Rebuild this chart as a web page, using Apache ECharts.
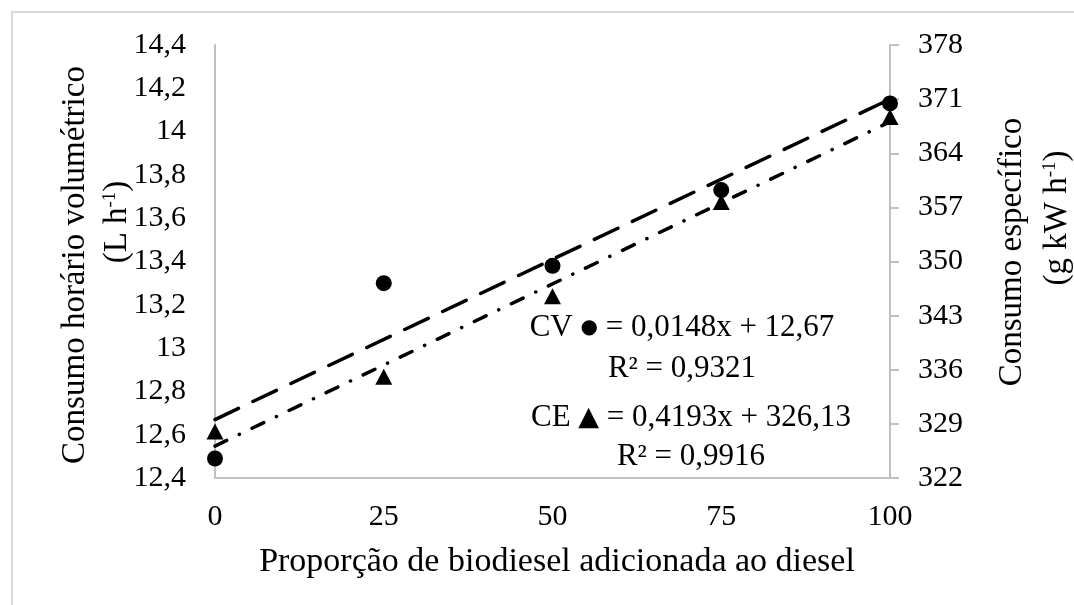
<!DOCTYPE html>
<html>
<head>
<meta charset="utf-8">
<script src="https://cdn.jsdelivr.net/npm/echarts@6/dist/echarts.min.js"></script>
<style>
  html, body { margin: 0; padding: 0; background: #ffffff; }
  #chart { width: 1074px; height: 605px; }
</style>
</head>
<body>
<div id="chart"></div>
<script>
// ---- data ----
const xValues = [0, 25, 50, 75, 100];
const cvValues = [12.49, 13.30, 13.38, 13.73, 14.13];      // Consumo horário volumétrico (L h-1), left axis
const ceValues = [328.0, 335.1, 345.5, 357.7, 368.7];      // Consumo específico (g kW h-1), right axis
const trendX = [0, 100];
const cvTrend = [12.67, 14.15];
const ceTrend = [326.13, 368.06];
const xTickLabels = ['0', '25', '50', '75', '100'];
const leftTickLabels = ['12,4', '12,6', '12,8', '13', '13,2', '13,4', '13,6', '13,8', '14', '14,2', '14,4'];
const rightTickLabels = ['322', '329', '336', '343', '350', '357', '364', '371', '378'];

const FONT = '"Liberation Serif", "Times New Roman", serif';
const AXIS_COLOR = '#c0c0c0';

const chart = echarts.init(document.getElementById('chart'), null, { renderer: 'canvas' });

const pairs = (xs, ys) => xs.map((x, i) => [x, ys[i]]);

function rotText(x, y, text, rich) {
  return {
    type: 'text', x: x, y: y, rotation: Math.PI / 2, z: 10,
    style: {
      text: text, x: 0, y: 0, align: 'center', verticalAlign: 'middle',
      font: '33px ' + FONT, fill: '#000', rich: rich
    }
  };
}
function eqText(x, y, text) {
  return {
    type: 'text', x: x, y: y, z: 10,
    style: {
      text: text, x: 0, y: 0, align: 'center', verticalAlign: 'middle',
      font: '31px ' + FONT, fill: '#000',
      rich: {
        c: { fontSize: 20, fontFamily: 'DejaVu Sans' },
        t: { fontSize: 27, fontFamily: 'DejaVu Sans' }
      }
    }
  };
}
const supRich = { sup: { fontSize: 19, fontFamily: FONT, verticalAlign: 'top', padding: [0, 0, 14, 0] } };

chart.setOption({
  backgroundColor: '#ffffff',
  animation: false,
  grid: { left: 215, right: 184, top: 45, bottom: 127, containLabel: false },
  xAxis: {
    type: 'value', min: 0, max: 100, interval: 25,
    axisLine: { show: true, lineStyle: { color: AXIS_COLOR, width: 2 } },
    axisTick: { show: false },
    splitLine: { show: false },
    axisLabel: {
      margin: 24, color: '#000', fontFamily: FONT, fontSize: 30,
      formatter: (v) => xTickLabels[Math.round(v / 25)]
    }
  },
  yAxis: [
    {
      type: 'value', min: 12.4, max: 14.4, interval: 0.2, position: 'left',
      axisLine: { show: true, lineStyle: { color: AXIS_COLOR, width: 2 } },
      axisTick: { show: false },
      splitLine: { show: false },
      axisLabel: {
        margin: 29, color: '#000', fontFamily: FONT, fontSize: 30,
        formatter: (v) => leftTickLabels[Math.round((v - 12.4) / 0.2)]
      }
    },
    {
      type: 'value', min: 322, max: 378, interval: 7, position: 'right',
      axisLine: { show: true, lineStyle: { color: AXIS_COLOR, width: 2 } },
      axisTick: { show: true, inside: false, length: 9, lineStyle: { color: AXIS_COLOR, width: 2 } },
      splitLine: { show: false },
      axisLabel: {
        margin: 28, color: '#000', fontFamily: FONT, fontSize: 30,
        formatter: (v) => rightTickLabels[Math.round((v - 322) / 7)]
      }
    }
  ],
  series: [
    {
      name: 'CV trend', type: 'line', yAxisIndex: 0, z: 2,
      data: pairs(trendX, cvTrend), showSymbol: false, silent: true,
      lineStyle: { color: '#000', width: 3.5, type: [26, 16], cap: 'round' }
    },
    {
      name: 'CE trend', type: 'line', yAxisIndex: 1, z: 2,
      data: pairs(trendX, ceTrend), showSymbol: false, silent: true,
      lineStyle: { color: '#000', width: 3.5, type: [13, 14, 0.1, 14], cap: 'round' }
    },
    {
      name: 'CV', type: 'scatter', yAxisIndex: 0, z: 5,
      data: pairs(xValues, cvValues),
      symbol: 'circle', symbolSize: 16,
      itemStyle: { color: '#000', opacity: 1 }
    },
    {
      name: 'CE', type: 'scatter', yAxisIndex: 1, z: 4,
      data: pairs(xValues, ceValues),
      symbol: 'triangle', symbolSize: [17, 16],
      itemStyle: { color: '#000', opacity: 1 }
    }
  ],
  graphic: [
    {
      type: 'rect', z: 0, silent: true,
      shape: { x: 12, y: 12, width: 1200, height: 800 },
      style: { fill: 'none', stroke: '#d9d9d9', lineWidth: 2 }
    },
    rotText(75, 265, 'Consumo horário volumétrico'),
    rotText(117, 222, '(L h{sup|-1})', supRich),
    rotText(1012, 252, 'Consumo específico'),
    rotText(1057, 218, '(g kW h{sup|-1})', supRich),
    {
      type: 'text', x: 557, y: 562, z: 10,
      style: {
        text: 'Proporção de biodiesel adicionada ao diesel', x: 0, y: 0,
        align: 'center', verticalAlign: 'middle', font: '34px ' + FONT, fill: '#000'
      }
    },
    eqText(682, 328, 'CV {c|●} = 0,0148x + 12,67'),
    eqText(682, 369, 'R² = 0,9321'),
    eqText(691, 418, 'CE {t|▲} = 0,4193x + 326,13'),
    eqText(691, 457, 'R² = 0,9916')
  ]
});
</script>
</body>
</html>
